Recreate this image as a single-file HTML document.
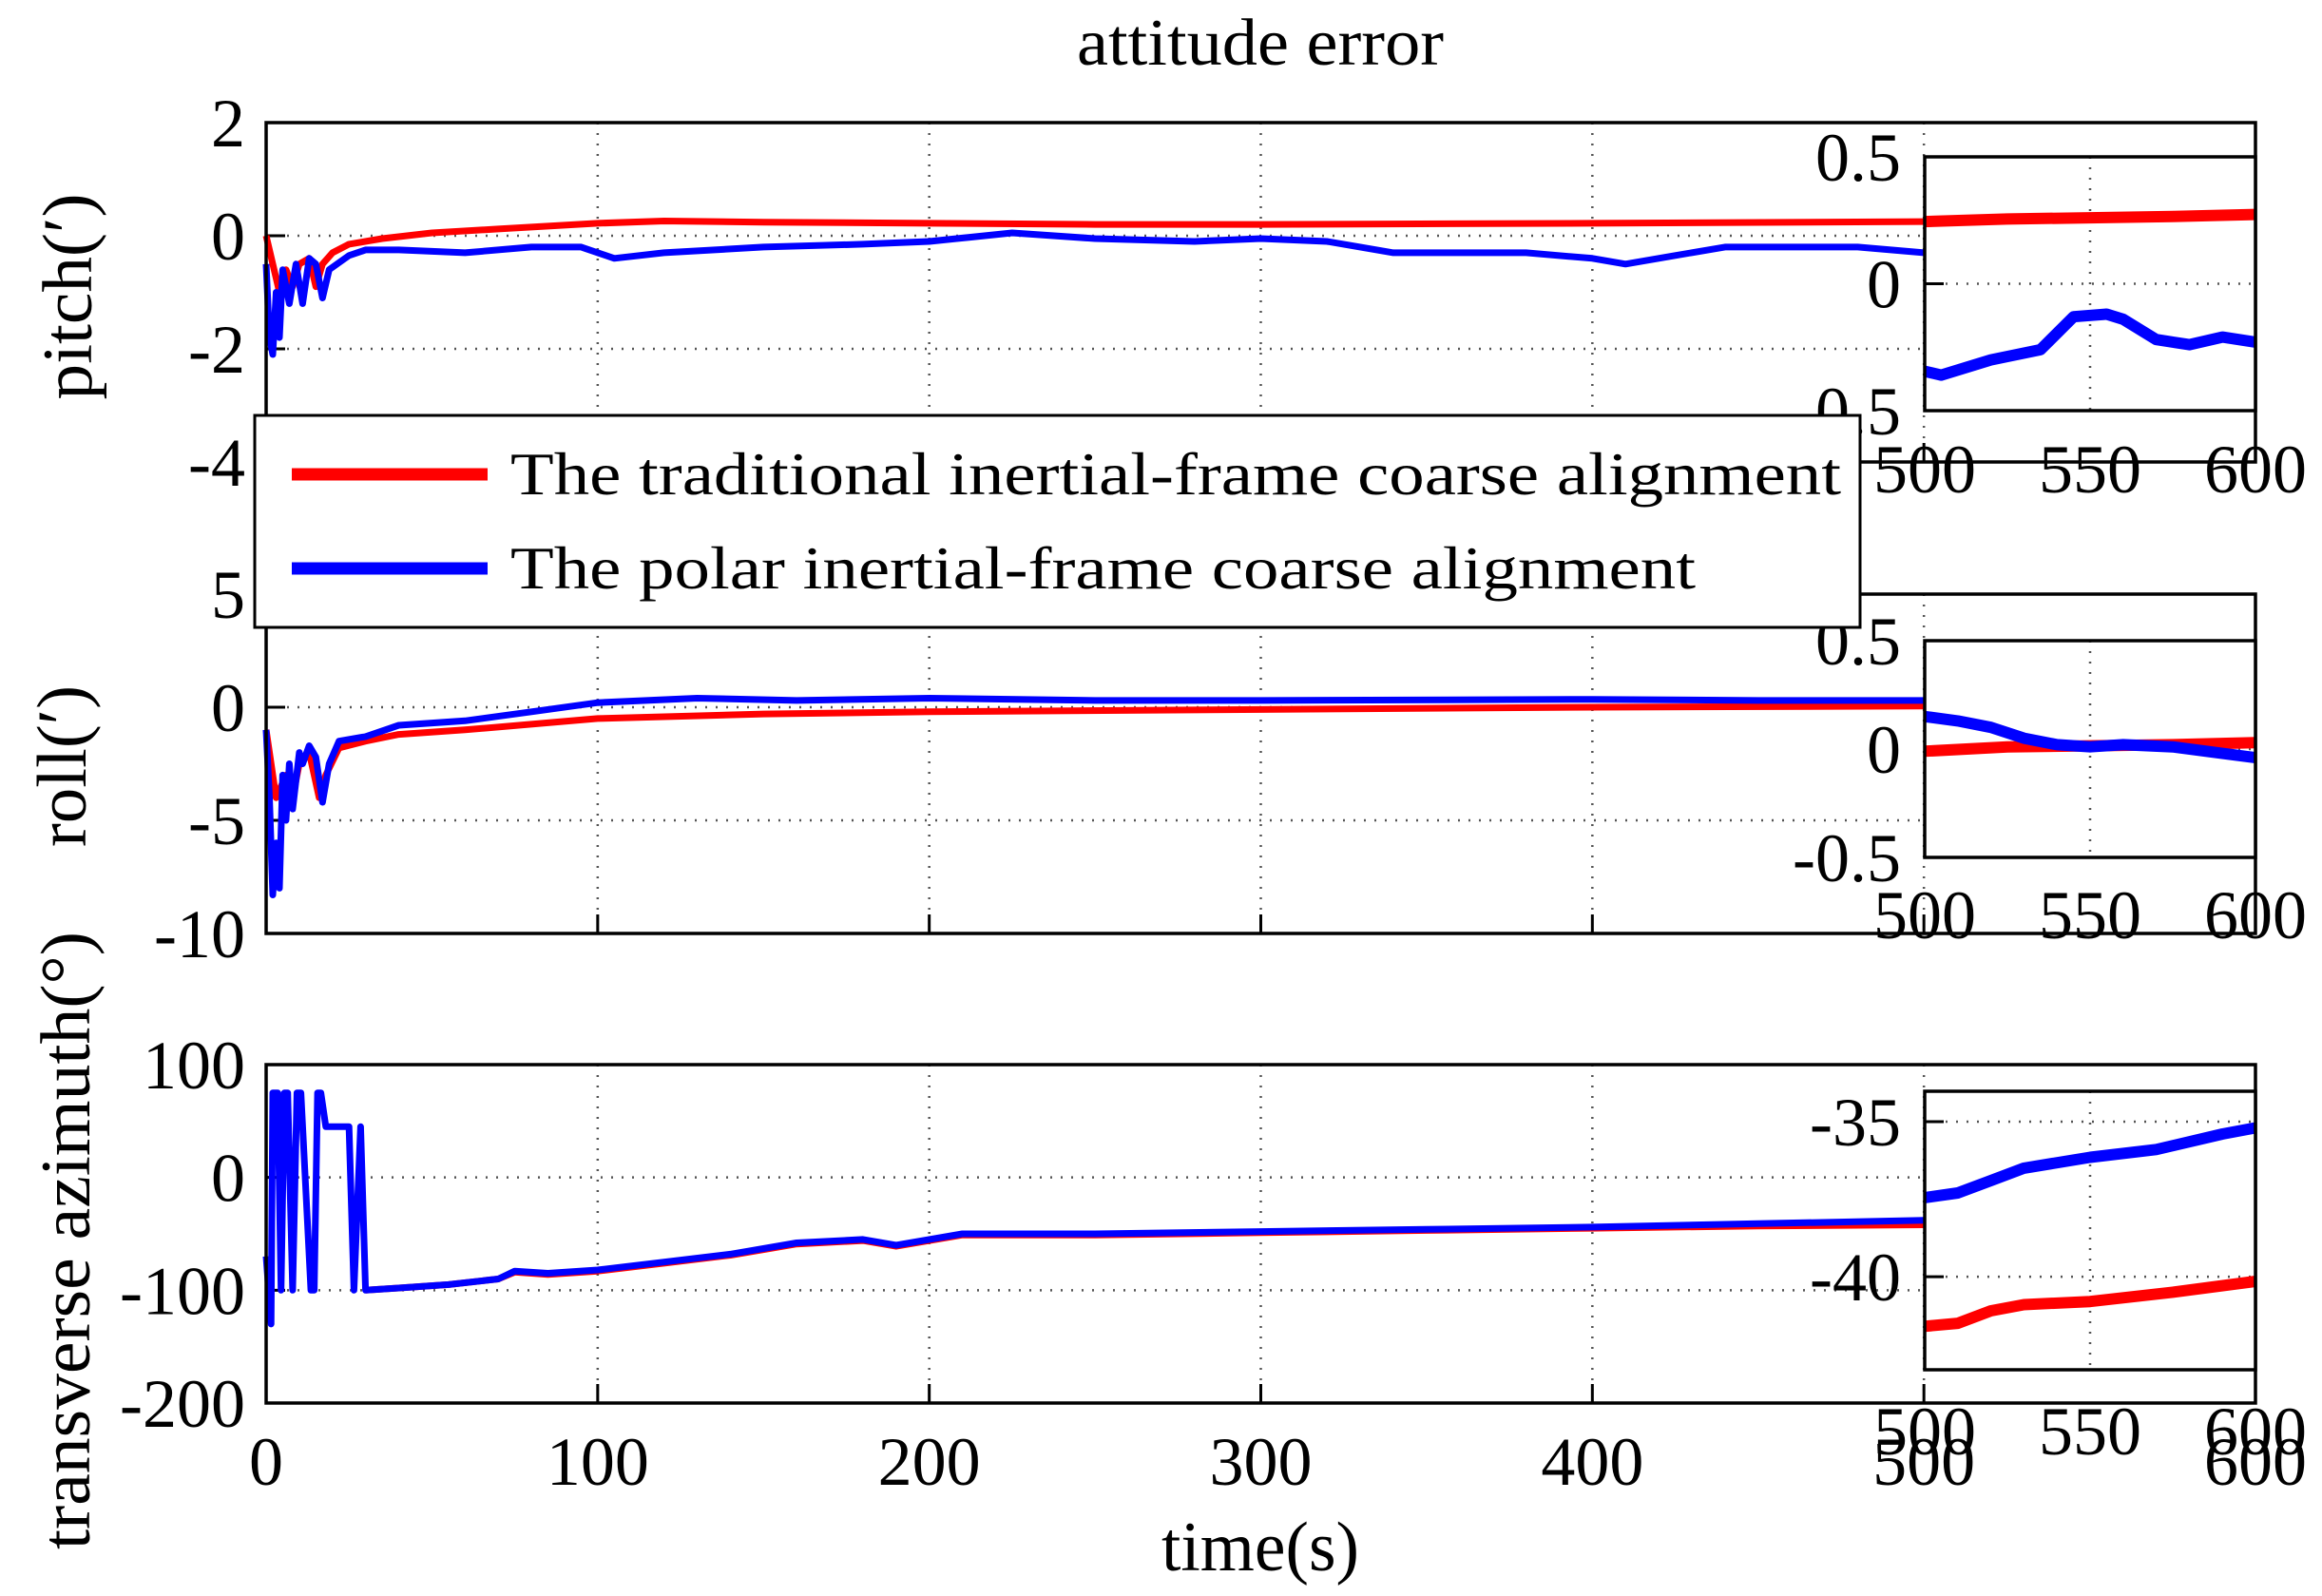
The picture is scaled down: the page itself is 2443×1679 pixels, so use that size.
<!DOCTYPE html>
<html><head><meta charset="utf-8"><style>
html,body{margin:0;padding:0;background:#fff;}
svg{display:block;font-family:"Liberation Serif",serif;}
</style></head><body>
<svg id="chart" width="2443" height="1679" viewBox="0 0 2443 1679" xmlns="http://www.w3.org/2000/svg">
<rect x="0" y="0" width="2443" height="1679" fill="#fff"/>
<text x="1326" y="68" font-size="70" text-anchor="middle" textLength="386" lengthAdjust="spacingAndGlyphs">attitude error</text>
<text x="1326" y="1652" font-size="74" text-anchor="middle" textLength="208" lengthAdjust="spacingAndGlyphs">time(s)</text>
<text transform="translate(96,312) rotate(-90)" font-size="74" text-anchor="middle" textLength="217" lengthAdjust="spacingAndGlyphs">pitch(′)</text>
<text transform="translate(90,806) rotate(-90)" font-size="74" text-anchor="middle" textLength="170" lengthAdjust="spacingAndGlyphs">roll(′)</text>
<text transform="translate(94,1305) rotate(-90)" font-size="74" text-anchor="middle" textLength="650" lengthAdjust="spacingAndGlyphs">transverse azimuth(°)</text>
<g id="plots"></g>
<g id="legend">
<rect x="268" y="437" width="1689" height="223" fill="#fff" stroke="#000" stroke-width="3"/>
<line x1="307" y1="499" x2="513" y2="499" stroke="#f00" stroke-width="13"/>
<text x="537" y="520" font-size="64" textLength="1400" lengthAdjust="spacingAndGlyphs">The traditional inertial-frame coarse alignment</text>
<line x1="307" y1="598" x2="513" y2="598" stroke="#00f" stroke-width="13"/>
<text x="537" y="619" font-size="64" textLength="1247" lengthAdjust="spacingAndGlyphs">The polar inertial-frame coarse alignment</text>
</g>
</svg>
<script>
// ---- data ----
const pitchRedT = [0,2,4,6,8,10,13,15,17,20,25,35,50,70,100,120,150,200,250,300,400,500];
const pitchRedV = [0,-0.5,-1.0,-0.6,-0.9,-0.5,-0.4,-0.9,-0.5,-0.3,-0.15,-0.05,0.05,0.12,0.22,0.26,0.24,0.22,0.2,0.2,0.22,0.25];
const pitchBlueT = [0,1,2,3,4,5,7,9,11,13,15,17,19,25,30,40,60,80,95,105,120,150,180,200,225,250,280,300,320,340,360,380,400,410,425,440,460,480,500];
const pitchBlueV = [-0.5,-1.8,-2.1,-1.0,-1.8,-0.6,-1.2,-0.5,-1.2,-0.4,-0.5,-1.1,-0.6,-0.35,-0.25,-0.25,-0.3,-0.2,-0.2,-0.4,-0.3,-0.2,-0.15,-0.1,0.05,-0.05,-0.1,-0.05,-0.1,-0.3,-0.3,-0.3,-0.4,-0.5,-0.35,-0.2,-0.2,-0.2,-0.3];
const rollRedT = [0,3,6,8,10,13,16,18,22,30,40,60,100,150,200,300,400,500];
const rollRedV = [-1,-4,-3,-4,-2.5,-2,-4,-3,-1.8,-1.5,-1.2,-1.0,-0.5,-0.3,-0.2,-0.1,0,0.05];
const rollBlueT = [0,1,2,3,4,5,6,7,8,10,11,13,15,17,19,22,30,40,60,80,100,130,160,200,250,300,400,450,500];
const rollBlueV = [-1,-4,-8.3,-6,-8,-3,-5,-2.5,-4.5,-2,-2.5,-1.7,-2.2,-4.2,-2.5,-1.5,-1.3,-0.8,-0.6,-0.2,0.2,0.4,0.3,0.4,0.3,0.3,0.35,0.3,0.3];
const aziBlueT = [0,1.5,2,3.5,4.5,5.5,6.5,8,9.3,10.5,13.5,14.5,15.5,16.5,18,25,26.5,28.5,30,40,55,70,75,85,100,120,140,160,180,190,210,250,300,350,400,450,500];
const aziBlueV = [-70,-130,75,75,-100,75,75,-100,75,75,-100,-100,75,75,45,45,-100,45,-100,-98,-95,-90,-83,-85,-82,-75,-68,-58,-55,-60,-50,-50,-48,-46,-44,-41,-38];
const aziRedT = [30,40,55,70,75,85,100,120,140,160,180,190,210,250,300,350,400,450,500];
const aziRedV = [-100,-98,-95,-90,-84,-86,-83,-76,-69,-59,-56,-61,-51,-51,-49,-47,-45,-43,-42];
const inPitchRedT = [500,525,550,575,600];
const inPitchRedV = [0.245,0.255,0.26,0.265,0.273];
const inPitchBlueT = [500,505,520,535,545,555,560,570,580,590,600];
const inPitchBlueV = [-0.345,-0.36,-0.3,-0.26,-0.13,-0.12,-0.14,-0.22,-0.24,-0.21,-0.23];
const inRollRedT = [500,525,550,575,600];
const inRollRedV = [-0.01,0.01,0.015,0.02,0.03];
const inRollBlueT = [500,510,520,530,540,550,560,575,590,600];
const inRollBlueV = [0.15,0.13,0.1,0.05,0.02,0.01,0.02,0.01,-0.02,-0.04];
const inAziBlueT = [500,510,520,530,550,570,590,600];
const inAziBlueV = [-37.45,-37.3,-36.9,-36.5,-36.15,-35.9,-35.4,-35.2];
const inAziRedT = [500,510,520,530,550,575,600];
const inAziRedV = [-41.6,-41.5,-41.1,-40.9,-40.8,-40.5,-40.15];
const mainXTicks = [0,100,200,300,400,500,600];
const mainXLabels = ["0","100","200","300","400","500","600"];
const insetXTicks = [500,550,600];
const insetXLabels = ["500","550","600"];
const pitchYTicks = [2,0,-2,-4];
const rollYTicks = [5,0,-5,-10];
const aziYTicks = [100,0,-100,-200];
const inPitchYTicks = [0.5,0,-0.5];
const inRollYTicks = [0.5,0,-0.5];
const inAziYTicks = [-35,-40];

const NS = "http://www.w3.org/2000/svg";
const root = document.getElementById('plots');
function mk(tag, attrs, parent){
  const e = document.createElementNS(NS, tag);
  for (const k in attrs) e.setAttribute(k, attrs[k]);
  (parent||root).appendChild(e);
  return e;
}
function axis(x0,x1,y0,y1,d0,d1,v0,v1){
  return {sx:t=>x0+(t-d0)/(d1-d0)*(x1-x0), sy:v=>y0+(v1-v)/(v1-v0)*(y1-y0), x0,x1,y0,y1};
}
function grid(ax, xt, yt, g){
  xt.forEach(t=>{ const x=ax.sx(t); if(x>ax.x0+2&&x<ax.x1-2){
    const l=mk('line',{x1:x,x2:x,y1:ax.y0,y2:ax.y1,stroke:'#555','stroke-width':2.5,'stroke-dasharray':'2 9'},g);
    
    }});
  yt.forEach(v=>{ const y=ax.sy(v); if(y>ax.y0+2&&y<ax.y1-2){
    const l=mk('line',{x1:ax.x0,x2:ax.x1,y1:y,y2:y,stroke:'#555','stroke-width':2.5,'stroke-dasharray':'2 9'},g);
    
    
    const tk=mk('line',{x1:ax.x0,x2:ax.x0+20,y1:y,y2:y,stroke:'#000','stroke-width':3},g);
    
    }});
}
function series(ax, T, V, color, w, g, name){
  const pts = T.map((t,i)=>ax.sx(t).toFixed(1)+','+ax.sy(V[i]).toFixed(1)).join(' ');
  const p = mk('polyline',{points:pts,fill:'none',stroke:color,'stroke-width':w,'stroke-linejoin':'round'},g);
  
  
}
function ylabels(ax, yt, xr, g, name){
  yt.forEach(v=>{
    const t=mk('text',{x:xr,y:ax.sy(v)+25,'font-size':72,'text-anchor':'end'},g);
    t.textContent=String(v);
    
    
  });
}
function xlabels(ax, xt, labels, yc, g, name){
  xt.forEach((t,i)=>{
    const e=mk('text',{x:ax.sx(t),y:yc+25,'font-size':72,'text-anchor':'middle'},g);
    e.textContent=labels[i];
    
    
  });
}
function frame(ax,g,name){
  const r=mk('rect',{x:ax.x0,y:ax.y0,width:ax.x1-ax.x0,height:ax.y1-ax.y0,fill:'none',stroke:'#000','stroke-width':3.5},g);
  
  
}
function panel(cfg){
  const g = mk('g',{});
  
  
  const ax = axis(280,2373,cfg.top,cfg.bot,0,600,cfg.ymin,cfg.ymax);
  grid(ax, mainXTicks, cfg.yt, g);
  mainXTicks.forEach(t=>{ const x=ax.sx(t);
    const tk=mk('line',{x1:x,x2:x,y1:ax.y1,y2:ax.y1-20,stroke:'#000','stroke-width':3},g);
    
    });
  series(ax, cfg.rT, cfg.rV, '#f00', 7, g, cfg.name+'-traditional-line');
  series(ax, cfg.bT, cfg.bV, '#00f', 7, g, cfg.name+'-polar-line');
  frame(ax,g,cfg.name+'-frame');
  ylabels(ax, cfg.yt, 258, g, 'y-tick-label');
  const ig = mk('g',{},g);
  
  
  const ia = axis(2025,2373,cfg.itop,cfg.ibot,500,600,cfg.iymin,cfg.iymax);
  mk('rect',{x:ia.x0,y:ia.y0,width:ia.x1-ia.x0,height:ia.y1-ia.y0,fill:'#fff'},ig);
  grid(ia, insetXTicks, cfg.iyt, ig);
  series(ia, cfg.irT, cfg.irV, '#f00', 12, ig, cfg.name+'-inset-traditional-line');
  series(ia, cfg.ibT, cfg.ibV, '#00f', 12, ig, cfg.name+'-inset-polar-line');
  frame(ia, ig, cfg.name+'-inset-frame');
  ylabels(ia, cfg.iyt, 2000, ig, 'inset-y-tick-label');
  xlabels(ia, insetXTicks, insetXLabels, cfg.ixl, ig, 'inset-x-tick-label');
  return ax;
}
panel({name:'pitch-panel',top:129,bot:486,ymin:-4,ymax:2,yt:pitchYTicks,rT:pitchRedT,rV:pitchRedV,bT:pitchBlueT,bV:pitchBlueV,
  itop:165,ibot:432,iymin:-0.5,iymax:0.5,iyt:inPitchYTicks,irT:inPitchRedT,irV:inPitchRedV,ibT:inPitchBlueT,ibV:inPitchBlueV,ixl:493});
panel({name:'roll-panel',top:625,bot:982,ymin:-10,ymax:5,yt:rollYTicks,rT:rollRedT,rV:rollRedV,bT:rollBlueT,bV:rollBlueV,
  itop:674,ibot:902,iymin:-0.5,iymax:0.5,iyt:inRollYTicks,irT:inRollRedT,irV:inRollRedV,ibT:inRollBlueT,ibV:inRollBlueV,ixl:962});
const azAx = panel({name:'azimuth-panel',top:1120,bot:1476,ymin:-200,ymax:100,yt:aziYTicks,rT:aziRedT,rV:aziRedV,bT:aziBlueT,bV:aziBlueV,
  itop:1148,ibot:1441,iymin:-43.0,iymax:-34.02,iyt:inAziYTicks,irT:inAziRedT,irV:inAziRedV,ibT:inAziBlueT,ibV:inAziBlueV,ixl:1505});
xlabels(azAx, mainXTicks, mainXLabels, 1537, root, 'x-tick-label');
</script>
</body></html>
